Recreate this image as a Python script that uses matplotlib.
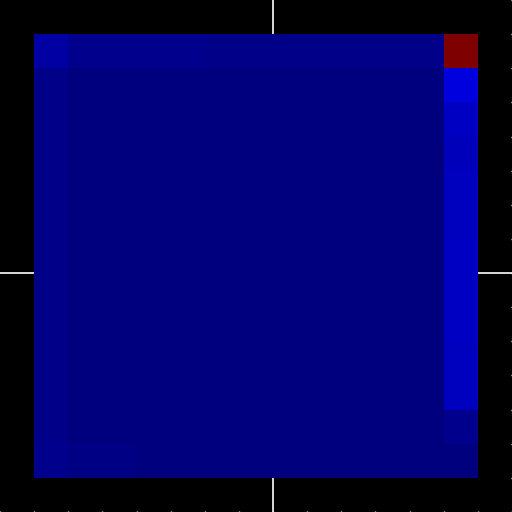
import numpy as np
import matplotlib
matplotlib.use('Agg')
import matplotlib.pyplot as plt

# 13x13 grid of values (jet colour scale, 0..1)
row_top = [0.032, 0.012, 0.012, 0.012, 0.012, 0.011, 0.011, 0.011, 0.011, 0.011, 0.011, 0.009, 1.0]
row_mid = [0.011, 0.003, 0.001, 0.001, 0.001, 0.001, 0.001, 0.001, 0.001, 0.001, 0.001, 0.001]
row_bottom = [0.012, 0.006, 0.004, 0.003, 0.003, 0.003, 0.003, 0.003, 0.003, 0.003, 0.003, 0.003, 0.002]
last_col = [0.084, 0.062, 0.054, 0.058, 0.058, 0.062, 0.062, 0.060, 0.055, 0.058, 0.013]

grid = [row_top]
for v in last_col:
    grid.append(row_mid + [v])
grid.append(row_bottom)
grid = np.array(grid)

fig = plt.figure(figsize=(5.12, 5.12), dpi=100, facecolor='black')
ax = fig.add_axes([0, 0, 1, 1])
ax.set_facecolor('black')

n = grid.shape[0]
ax.imshow(grid, cmap='jet', vmin=0, vmax=1, interpolation='nearest',
          extent=(1, n + 1, n + 1, 1), zorder=2)
ax.axvline(8, color='white', lw=1.2, zorder=1)
ax.axhline(8, color='white', lw=1.2, zorder=1)

ax.set_xlim(0, n + 2)
ax.set_ylim(n + 2, 0)
ax.set_aspect('auto')
ax.set_xticks(range(0, n + 3))
ax.set_yticks(range(0, n + 3))
ax.tick_params(axis='both', direction='in', colors='white', length=1, width=1,
               labelbottom=False, labelleft=False, left=False, right=True)
for s in ax.spines.values():
    s.set_visible(False)

plt.savefig('out.png', dpi=100, facecolor='black')
